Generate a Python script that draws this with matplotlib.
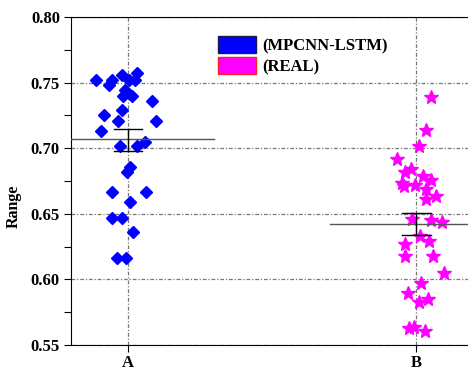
import matplotlib

matplotlib.use("Agg")
import matplotlib.pyplot as plt  # noqa: E402
from matplotlib.patches import Patch  # noqa: E402
from matplotlib.ticker import FormatStrFormatter, MultipleLocator  # noqa: E402

plt.rcParams["font.family"] = ["Liberation Serif", "DejaVu Serif"]
plt.rcParams["font.weight"] = "bold"

groups = ["A", "B"]
labels = ["(MPCNN-LSTM)", "(REAL)"]

# jitter offsets (x, relative to the group position) and values
a_jit = [-0.111, -0.057, -0.065, -0.022, 0.002, 0.023, 0.030, -0.011, -0.016, 0.014,
         0.083, -0.082, -0.021, -0.035, 0.096, -0.095, 0.059, -0.027, 0.032, 0.008,
         -0.005, -0.057, 0.064, 0.008, -0.057, -0.020, 0.016, -0.038, -0.007]
a_val = [0.752, 0.752, 0.748, 0.756, 0.752, 0.752, 0.757, 0.744, 0.740, 0.740,
         0.736, 0.725, 0.729, 0.721, 0.721, 0.713, 0.705, 0.7015, 0.7015, 0.686,
         0.682, 0.6665, 0.6665, 0.659, 0.647, 0.647, 0.636, 0.616, 0.616]

b_jit = [0.052, 0.035, 0.011, -0.065, -0.017, -0.038, 0.025, 0.051, -0.049, -0.042,
         -0.003, 0.035, 0.068, 0.034, -0.013, 0.052, 0.089, 0.014, 0.046, -0.037,
         -0.038, 0.058, 0.096, 0.018, -0.029, 0.010, 0.041, -0.025, -0.009, 0.031]
b_val = [0.7393, 0.714, 0.702, 0.692, 0.684, 0.6815, 0.679, 0.6756, 0.6735, 0.671,
         0.672, 0.669, 0.6637, 0.661, 0.6464, 0.6449, 0.6434, 0.6327, 0.6294, 0.627,
         0.6175, 0.618, 0.605, 0.597, 0.5896, 0.5825, 0.585, 0.5627, 0.564, 0.561]

means = [0.707, 0.6426]
err_lo = [0.698, 0.634]
err_hi = [0.715, 0.6507]

fig = plt.figure(figsize=(4.68, 3.71), dpi=100)
ax = fig.add_axes([71 / 468, 26 / 371, 1 - 71 / 468, 328 / 371])

ax.grid(True, which="major", color="#777777", lw=0.9, zorder=0,
        dashes=(3, 1.5, 1, 1.5))

ax.plot([1 + j for j in a_jit], a_val, "D", color="#0000ff", ms=6.5, ls="none", zorder=3)
ax.plot([2 + j for j in b_jit], b_val, "*", color="#ff00ff", ms=10, ls="none", zorder=3)

for i, m in enumerate(means):
    x = i + 1
    ax.plot([x - 0.3, x + 0.3], [m, m], color="#555555", lw=1.0, zorder=4)
    ax.plot([x, x], [err_lo[i], err_hi[i]], color="black", lw=1.0, zorder=4)
    for yy in (err_lo[i], err_hi[i]):
        ax.plot([x - 0.05, x + 0.05], [yy, yy], color="black", lw=1.0, zorder=4)

ax.set_xlim(0.802, 2.18)
ax.set_ylim(0.55, 0.80)
ax.set_xticks([1, 2])
ax.set_xticklabels(groups, fontsize=12, fontweight="bold")
ax.yaxis.set_major_locator(MultipleLocator(0.05))
ax.yaxis.set_minor_locator(MultipleLocator(0.025))
ax.yaxis.set_major_formatter(FormatStrFormatter("%.2f"))
ax.tick_params(axis="y", which="both", direction="out", length=5, width=0.8,
               labelsize=12, pad=3)
ax.tick_params(axis="x", direction="out", length=5, width=0.8, pad=2)
for t in ax.get_yticklabels():
    t.set_fontweight("bold")
ax.spines["right"].set_visible(False)
ax.set_ylabel("Range", fontsize=11.5, fontweight="bold")
ax.yaxis.set_label_coords(-0.123, 0.424)

handles = [Patch(facecolor="#0000ff", edgecolor="#1a1a50", lw=1.0),
           Patch(facecolor="#ff00ff", edgecolor="#ff2020", lw=1.0)]
ax.legend(handles, labels, loc="upper left", bbox_to_anchor=(0.370, 0.942),
          frameon=False, borderpad=0, borderaxespad=0, handlelength=2.3,
          handleheight=1.15, labelspacing=0.2, handletextpad=0.35,
          prop={"family": "Liberation Serif", "weight": "bold", "size": 12})

fig.savefig("out.png", dpi=100)
